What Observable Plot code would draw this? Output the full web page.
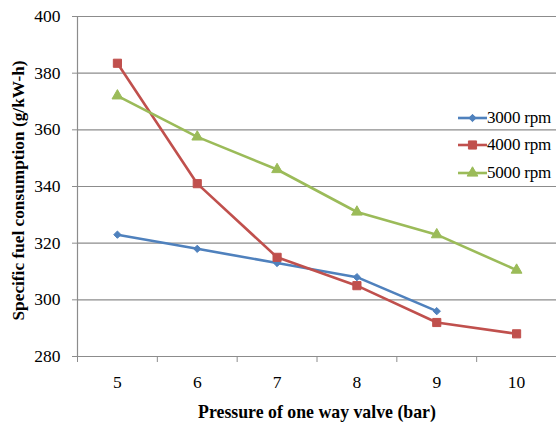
<!DOCTYPE html>
<html>
<head>
<meta charset="utf-8">
<script src="https://cdn.jsdelivr.net/npm/d3@7"></script>
<script src="https://cdn.jsdelivr.net/npm/@observablehq/plot@0.6"></script>
<style>
  html, body { margin: 0; padding: 0; background: #fff; }
  #wrap { position: relative; width: 556px; height: 423px; overflow: hidden; }
  #wrap svg text { font-family: "Liberation Serif", "Times New Roman", serif; font-variant: normal; }
  #legend { position: absolute; left: 456px; top: 104px; font-family: "Liberation Serif", serif; font-size: 17px; letter-spacing: -0.2px; color: #000; }
  #legend .row { display: flex; align-items: center; height: 27.5px; }
  #legend svg { display: block; margin-right: 0px; }
</style>
</head>
<body>
<div id="wrap"><div id="legend"></div></div>
<script>
// Valve pressure settings (bar)
const pressures = [5, 6, 7, 8, 9, 10];
// Specific fuel consumption (g/kW-h) per engine speed
const sfc3000 = [323, 318, 313, 308, 296];
const sfc4000 = [383.5, 341, 315, 305, 292, 288];
const sfc5000 = [372, 357.5, 346, 331, 323, 310.5];
const seriesNames = ["3000 rpm", "4000 rpm", "5000 rpm"];
const seriesColors = ["#4F81BD", "#C0504D", "#9BBB59"];
const seriesSymbols = ["diamond2", "square", "triangle"];
const seriesRadius = [3.3, 4.6, 4.0];
const yTicks = [280, 300, 320, 340, 360, 380, 400];

const allSeries = [sfc3000, sfc4000, sfc5000];
const rows = allSeries.flatMap((vals, s) =>
  vals.map((v, i) => ({series: seriesNames[s], p: pressures[i], sfc: v}))
);

// category band edges for the x tick marks
const edges = [pressures[0] - 0.5, ...pressures.map(p => p + 0.5)];

const font = "'Liberation Serif', 'Times New Roman', serif";
const gridColor = "#8c8c8c";

const chart = Plot.plot({
  width: 556,
  height: 423,
  marginLeft: 77,
  marginRight: 0,
  marginTop: 16,
  marginBottom: 67,
  style: {fontFamily: font, fontSize: "17px", color: "#000", background: "#fff"},
  x: {domain: [edges[0], edges[edges.length - 1]]},
  y: {domain: [280, 400]},
  color: {domain: seriesNames, range: seriesColors},
  symbol: {domain: seriesNames, range: seriesSymbols},
  marks: [
    Plot.ruleY(yTicks, {stroke: gridColor, strokeWidth: 1.2}),
    Plot.ruleX([edges[0]], {stroke: gridColor, strokeWidth: 1.2}),
    Plot.axisY({ticks: yTicks, tickSize: 5, tickPadding: 12, stroke: gridColor, label: null, fill: "#000", fontSize: 17.5, fontVariant: "normal"}),
    Plot.axisX({ticks: edges, tickSize: 6, tickFormat: () => "", stroke: gridColor, label: null}),
    Plot.axisX({ticks: pressures, tickSize: 0, tickPadding: 19, tickFormat: d => String(d), label: null, fill: "#000", fontSize: 17.5, fontVariant: "normal"}),
    Plot.line(rows, {x: "p", y: "sfc", z: "series", stroke: "series", strokeWidth: 2.6}),
    ...seriesNames.map((name, s) =>
      Plot.dot(rows.filter(d => d.series === name), {
        x: "p", y: "sfc", symbol: "series", fill: "series", stroke: "series",
        strokeWidth: 1, r: seriesRadius[s]
      })
    ),
    Plot.text(["Specific fuel consumption (g/kW-h)"], {
      frameAnchor: "left", textAnchor: "middle", lineAnchor: "middle", dx: -59, dy: 4, rotate: -90,
      fontWeight: "bold", fontSize: 17.3, fill: "#000"
    }),
    Plot.text(["Pressure of one way valve (bar)"], {
      frameAnchor: "bottom", textAnchor: "middle", lineAnchor: "middle", dy: 56,
      fontWeight: "bold", fontSize: 17.8, fill: "#000"
    })
  ]
});
document.getElementById("wrap").prepend(chart);

// legend: line sample with marker, then the series name
const legend = d3.select("#legend");
seriesNames.forEach((name, s) => {
  const row = legend.append("div").attr("class", "row");
  const svg = row.append("svg").attr("width", 31).attr("height", 14);
  svg.append("line").attr("x1", 2).attr("x2", 31).attr("y1", 7).attr("y2", 7)
    .attr("stroke", seriesColors[s]).attr("stroke-width", 2.6);
  const symbolType = {diamond2: d3.symbolDiamond2, square: d3.symbolSquare, triangle: d3.symbolTriangle}[seriesSymbols[s]];
  svg.append("path")
    .attr("d", d3.symbol(symbolType, Math.PI * seriesRadius[s] ** 2)())
    .attr("transform", "translate(16.5,7)")
    .attr("fill", seriesColors[s]).attr("stroke", seriesColors[s]);
  row.append("span").text(name);
});
</script>
</body>
</html>
